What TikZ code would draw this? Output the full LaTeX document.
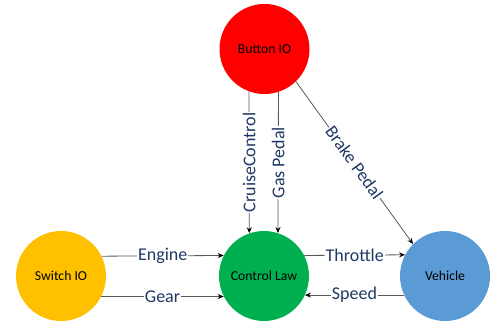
\documentclass[tikz,border=0pt]{standalone}
\usepackage{fontspec}
\setmainfont{Carlito}
\usetikzlibrary{arrows.meta}
\definecolor{btnred}{HTML}{FF0000}
\definecolor{swyellow}{HTML}{FFC000}
\definecolor{clgreen}{HTML}{00B050}
\definecolor{vehblue}{HTML}{5B9BD5}
\definecolor{lblnavy}{HTML}{203864}
\definecolor{linegray}{HTML}{595959}
\begin{document}
\begin{tikzpicture}[x=1pt,y=-1pt,
  state/.style={circle,draw=none,minimum size=90pt,inner sep=0pt,font=\fontsize{13.7}{15}\selectfont,text=black},
  conn/.style={draw=linegray,line width=0.8pt,-{Stealth[length=6pt,width=5pt,color=black]}},
  lbl/.style={fill=white,inner sep=1pt,text=lblnavy,font=\fontsize{18}{20}\selectfont}]
\useasboundingbox (0,0) rectangle (490,324);
\node[state,fill=btnred] (btn) at (264.5,49) {Button IO};
\node[state,fill=swyellow] (sw) at (61,276) {Switch IO};
\node[state,fill=clgreen] (cl) at (264,276) {Control Law};
\node[state,fill=vehblue] (veh) at (445,276) {Vehicle};
\draw[conn] (btn.250.5) -- node[lbl,rotate=90] {CruiseControl} (cl.109.5);
\draw[conn] (btn.288) -- node[lbl,rotate=90] {Gas Pedal} (cl.72);
\draw[conn] (btn.-46) -- node[lbl,sloped] {Brake Pedal} (veh.135);
\draw[conn] (sw.26.4) -- node[lbl] {Engine} (cl.153.6);
\draw[conn] (sw.-27.8) -- node[lbl] {Gear} (cl.207.8);
\draw[conn] (cl.27.8) -- node[lbl] {Throttle} (veh.152.2);
\draw[conn] (veh.205) -- node[lbl] {Speed} (cl.-25);
\end{tikzpicture}
\end{document}
